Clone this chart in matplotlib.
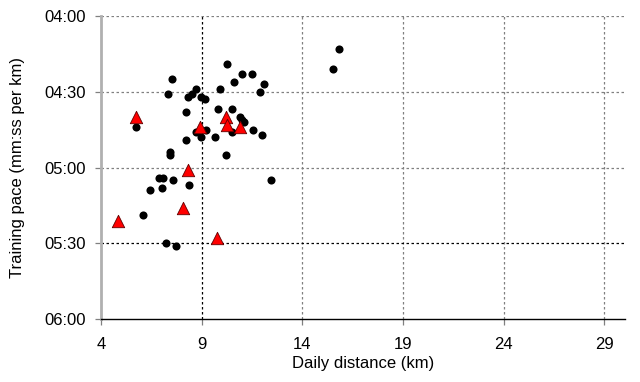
import matplotlib
matplotlib.use("Agg")
import matplotlib.pyplot as plt

plt.rcParams['font.family'] = ['Liberation Sans', 'DejaVu Sans']

# Daily runs (black circles): distance in km, pace as m:ss per km
run_km = [15.8, 15.5, 10.25, 7.5, 7.3, 11.0, 11.5, 10.6, 12.1, 11.9,
          9.9, 8.7, 8.5, 8.3, 8.95, 9.15, 8.2, 9.8, 10.5, 10.9,
          11.1, 5.75, 8.7, 9.2, 10.5, 11.55, 12.0, 8.2, 8.95, 9.65,
          7.4, 7.4, 10.2, 12.45, 6.9, 7.1, 7.55, 6.45, 7.05, 8.35,
          6.1, 7.2, 7.7, 11.0]
run_pace = ["4:13", "4:21", "4:19", "4:25", "4:31", "4:23", "4:23", "4:26", "4:27", "4:30",
            "4:29", "4:29", "4:31", "4:32", "4:32", "4:33", "4:38", "4:37", "4:37", "4:40",
            "4:42", "4:44", "4:46", "4:45", "4:46", "4:45", "4:47", "4:49", "4:48", "4:48",
            "4:54", "4:55", "4:55", "5:05", "5:04", "5:04", "5:05", "5:09", "5:08", "5:07",
            "5:19", "5:30", "5:31", "4:41"]

# Highlighted runs (red triangles)
hi_km = [5.75, 8.9, 10.2, 10.25, 10.9, 8.3, 8.05, 4.85, 9.75]
hi_pace = ["4:40", "4:44", "4:40", "4:43", "4:44", "5:01", "5:16", "5:21", "5:28"]

x_ticks = [4, 9, 14, 19, 24, 29]
y_ticks = ["04:00", "04:30", "05:00", "05:30", "06:00"]


def to_min(s):
    m, sec = s.split(":")
    return int(m) + int(sec) / 60.0


fig = plt.figure(figsize=(6.4, 3.82), dpi=100)
ax = fig.add_axes([0.158, 0.165, 0.819, 0.793])

y_vals = [to_min(t) for t in y_ticks]

# grid lines: grey dotted, with the 9 km and 05:30 lines in black
for xv in x_ticks[1:]:
    c = 'black' if xv == 9 else 'grey'
    ax.axvline(xv, color=c, linestyle=(0, (2, 2)), linewidth=0.9, zorder=1)
for yv in y_vals[:-1]:
    c = 'black' if abs(yv - 5.5) < 1e-6 else 'grey'
    ax.axhline(yv, color=c, linestyle=(0, (2, 2)), linewidth=0.9, zorder=1)

ax.scatter(run_km, [to_min(p) for p in run_pace], s=34, color='black',
           marker='o', zorder=3, linewidths=0)
ax.scatter(hi_km, [to_min(p) for p in hi_pace], s=80, color='#ff0000',
           marker='^', edgecolors='#600000', linewidths=0.6, zorder=4)

ax.set_xlim(4, 30.05)
ax.set_ylim(6.0, 4.0)
ax.set_xticks(x_ticks)
ax.set_yticks(y_vals)
ax.set_yticklabels(y_ticks)
ax.tick_params(axis='both', labelsize=12, length=4, width=0.9, color='grey')
ax.tick_params(axis='x', pad=9)
ax.tick_params(axis='y', pad=7)
for t, xv in zip(ax.xaxis.get_major_ticks(), x_ticks):
    if xv == 9:
        t.tick1line.set_color('black')

ax.spines['top'].set_visible(False)
ax.spines['right'].set_visible(False)
ax.spines['left'].set_color('#b0b0b0')
ax.spines['left'].set_linewidth(2)
ax.spines['bottom'].set_color('black')
ax.spines['bottom'].set_linewidth(1)

ax.set_xlabel('Daily distance (km)', fontsize=12, labelpad=3)
ax.set_ylabel('Training pace (mm:ss per km)', fontsize=12, labelpad=14)

fig.savefig('out.png', dpi=100)
